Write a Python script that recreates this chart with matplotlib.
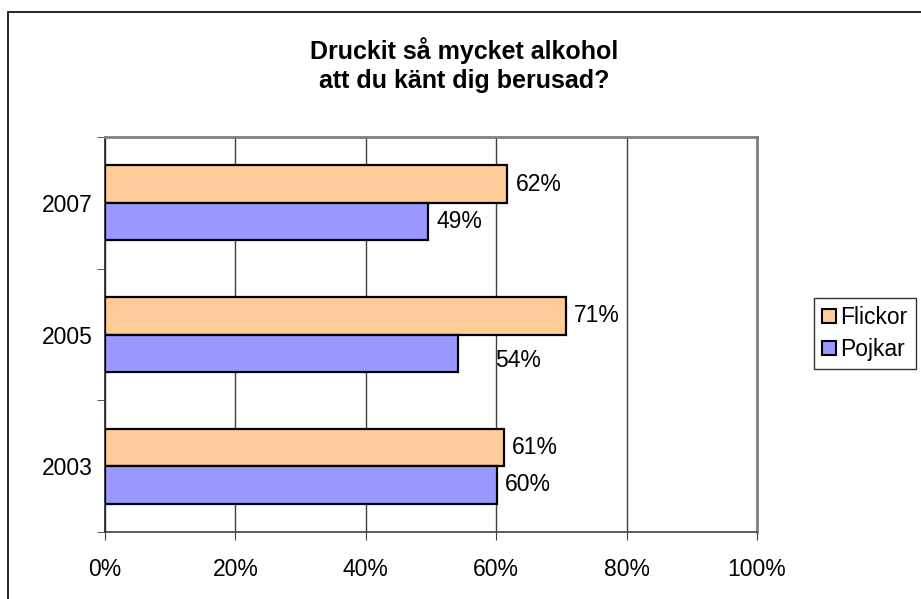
import matplotlib
matplotlib.use("Agg")
import matplotlib.pyplot as plt
from matplotlib.patches import Rectangle, Patch
import numpy as np

plt.rcParams['font.family'] = ['Liberation Sans', 'DejaVu Sans']

title = "Druckit så mycket alkohol\natt du känt dig berusad?"
years = ["2003", "2005", "2007"]
flickor = [61.2, 70.7, 61.7]
pojkar = [60.1, 54.1, 49.5]
flickor_labels = ["61%", "71%", "62%"]
pojkar_labels = ["60%", "54%", "49%"]
xticks = [0, 20, 40, 60, 80, 100]
xtick_labels = ["0%", "20%", "40%", "60%", "80%", "100%"]

W, H = 921, 599
FS = 16.5
fig = plt.figure(figsize=(W / 100, H / 100), dpi=100)
ax = fig.add_axes([105 / W, 1 - 532 / H, 652 / W, 395 / H])

y = np.arange(len(years))
bh = 0.285
c_f = "#FFCC99"
c_p = "#9999FF"
ax.barh(y + bh / 2, flickor, height=bh, color=c_f, edgecolor="black", linewidth=1.6, zorder=3, label="Flickor")
ax.barh(y - bh / 2, pojkar, height=bh, color=c_p, edgecolor="black", linewidth=1.6, zorder=3, label="Pojkar")

ax.set_xlim(0, 100)
ax.set_ylim(-0.5, len(years) - 0.5)
ax.set_xticks(xticks)
ax.set_xticklabels(xtick_labels, fontsize=FS)
ax.set_yticks(y)
ax.set_yticklabels(years, fontsize=FS)
ax.set_yticks(np.arange(-0.5, len(years), 1.0), minor=True)
ax.tick_params(axis="y", which="major", length=0, pad=9)
ax.tick_params(axis="y", which="minor", length=6, direction="out", color="#404040")
ax.tick_params(axis="x", which="major", length=6, direction="out", color="#404040", pad=13)

ax.grid(axis="x", color="#404040", linewidth=1.0, zorder=0)
ax.set_axisbelow(True)
for s in ["top", "right"]:
    ax.spines[s].set_color("#808080")
    ax.spines[s].set_linewidth(2.0)
ax.spines["left"].set_color("#202020")
ax.spines["left"].set_linewidth(1.2)
ax.spines["bottom"].set_color("#404040")
ax.spines["bottom"].set_linewidth(1.2)

for i in range(len(years)):
    ax.annotate(flickor_labels[i], (flickor[i], y[i] + bh / 2), xytext=(6, 0),
                textcoords="offset points", va="center", ha="left", fontsize=FS)
    off = (27, -5) if pojkar_labels[i] == "54%" else (6, 0)
    ax.annotate(pojkar_labels[i], (pojkar[i], y[i] - bh / 2), xytext=off,
                textcoords="offset points", va="center", ha="left", fontsize=FS)

fig.text(464 / W, 1 - 65 / H, title, ha="center", va="center", fontsize=18,
         fontweight="bold", linespacing=1.3)

handles = [Patch(facecolor=c_f, edgecolor="black", linewidth=1.5, label="Flickor"),
           Patch(facecolor=c_p, edgecolor="black", linewidth=1.5, label="Pojkar")]
leg = fig.legend(handles=handles, loc="upper left", bbox_to_anchor=(814 / W, 1 - 298 / H),
                 fontsize=FS, frameon=True, fancybox=False, handlelength=0.6, handleheight=0.6,
                 handletextpad=0.2, borderpad=0.35, labelspacing=0.4, borderaxespad=0)
leg.get_frame().set_edgecolor("black")
leg.get_frame().set_linewidth(1.0)

fig.patches.append(Rectangle((8 / W, -0.1), 1.2, 1 - 12 / H + 0.1, transform=fig.transFigure,
                             fill=False, edgecolor="black", linewidth=1.2))

fig.savefig("out.png", dpi=100)
